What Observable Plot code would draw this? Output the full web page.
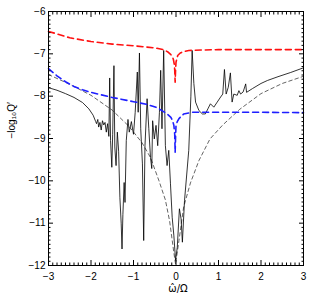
<!DOCTYPE html>
<html><head><meta charset="utf-8">
<script src="https://cdn.jsdelivr.net/npm/d3@7"></script>
<script src="https://cdn.jsdelivr.net/npm/@observablehq/plot@0.6"></script>
<style>body{margin:0;background:#fff}</style>
</head><body><div id="chart"></div>
<script>
// red dashed curve
const redW = [-3, -2.5, -2, -1.5, -1, -0.5, -0.3, -0.2, -0.12, -0.08, -0.06, -0.04, -0.03, -0.02, -0.01, 0.0, 0.04, 0.1, 0.17, 0.3, 0.6, 1, 2, 3];
const redQ = [-6.47, -6.62, -6.71, -6.77, -6.81, -6.86, -6.90, -6.95, -7.02, -7.08, -7.14, -7.25, -7.38, -7.67, -7.38, -7.20, -7.04, -6.98, -6.95, -6.92, -6.91, -6.90, -6.90, -6.90];
// blue dashed curve
const blueW = [-3, -2.8, -2.6, -2.4, -2.2, -2, -1.5, -1, -0.7, -0.45, -0.3, -0.2, -0.12, -0.08, -0.05, -0.03, -0.02, -0.01, 0.0, 0.03, 0.07, 0.18, 0.38, 0.6, 1, 2, 3];
const blueQ = [-7.35, -7.52, -7.66, -7.77, -7.85, -7.91, -8.03, -8.13, -8.19, -8.27, -8.36, -8.43, -8.50, -8.58, -8.69, -8.90, -9.33, -8.95, -8.70, -8.60, -8.53, -8.42, -8.38, -8.38, -8.38, -8.38, -8.39];
// thin black dashed curve
const dashW = [-3, -2.5, -2, -1.5, -1.1, -0.8, -0.6, -0.4, -0.25, -0.15, -0.05, -0.01, 0.07, 0.18, 0.34, 0.54, 0.8, 1.1, 1.5, 2, 2.5, 3];
const dashQ = [-7.49, -7.72, -7.98, -8.33, -8.72, -9.10, -9.45, -10.0, -10.45, -10.95, -11.7, -11.97, -11.41, -10.62, -10.05, -9.52, -9.01, -8.68, -8.31, -7.94, -7.70, -7.53];
// black solid curve
const solidW = [-3, -2.8, -2.6, -2.4, -2.2, -2.05, -1.95, -1.89, -1.87, -1.84, -1.82, -1.79, -1.76, -1.73, -1.70, -1.67, -1.64, -1.61, -1.58, -1.56, -1.54, -1.51, -1.49, -1.46, -1.44, -1.41, -1.38, -1.35, -1.32, -1.29, -1.27, -1.25, -1.22, -1.20, -1.17, -1.13, -1.10, -1.05, -1.0, -0.96, -0.91, -0.89, -0.86, -0.83, -0.79, -0.76, -0.73, -0.68, -0.64, -0.60, -0.57, -0.55, -0.51, -0.47, -0.43, -0.39, -0.36, -0.33, -0.29, -0.25, -0.21, -0.17, -0.13, -0.09, -0.05, -0.01, 0.03, 0.08, 0.12, 0.15, 0.2, 0.3, 0.35, 0.38, 0.42, 0.46, 0.54, 0.62, 0.69, 0.75, 0.81, 0.89, 0.97, 1.05, 1.1, 1.14, 1.18, 1.23, 1.28, 1.32, 1.36, 1.44, 1.48, 1.52, 1.58, 1.64, 1.66, 1.8, 2.0, 2.15, 2.4, 2.7, 3.0];
const solidQ = [-7.80, -7.86, -7.94, -8.03, -8.15, -8.30, -8.45, -8.60, -8.65, -8.55, -8.73, -8.62, -8.80, -8.58, -8.68, -8.62, -8.85, -8.65, -8.95, -7.57, -9.05, -9.68, -8.90, -7.28, -9.20, -9.64, -8.85, -9.30, -10.4, -11.0, -11.61, -10.8, -10.04, -10.51, -9.05, -8.55, -8.85, -8.60, -8.90, -8.38, -7.43, -8.38, -6.98, -8.77, -9.60, -11.41, -9.17, -8.06, -8.77, -9.45, -9.71, -8.58, -9.01, -8.69, -9.17, -8.38, -7.39, -8.77, -6.92, -9.17, -9.64, -9.28, -10.07, -10.86, -11.3, -11.88, -11.57, -10.66, -10.9, -11.45, -10.47, -9.28, -8.0, -6.92, -7.70, -8.14, -8.34, -8.42, -8.42, -8.30, -8.18, -8.26, -8.14, -8.02, -7.95, -7.37, -7.95, -7.79, -7.45, -8.14, -7.95, -7.98, -7.87, -7.95, -7.90, -7.71, -7.91, -7.82, -7.70, -7.63, -7.54, -7.44, -7.33];
// ticks
const xTicks = [-3, -2, -1, 0, 1, 2, 3];
const xTickLabels = ["\u22123", "\u22122", "\u22121", "0", "1", "2", "3"];
const yTicks = [-6, -7, -8, -9, -10, -11, -12];
const yTickLabels = ["\u22126", "\u22127", "\u22128", "\u22129", "\u221210", "\u221211", "\u221212"];
const xLabel = "\u03c9\u0302/\u03a9";
const yLabel = "\u2212log\u2081\u2080Q\u2032";

const rows = (xs, ys) => xs.map((x, i) => ({x, y: ys[i]}));
const xMinor = d3.range(-30, 31).filter(i => i % 10 !== 0).map(i => i / 10);
const yMinor = d3.range(-120, -59).filter(i => i % 10 !== 0).map(i => i / 10);
const fx = d => xTickLabels[xTicks.indexOf(d)];
const fy = d => yTickLabels[yTicks.indexOf(d)];

const tickMarks = [];
for (const anchor of ["bottom", "top"]) {
  tickMarks.push(Plot.axisX({anchor, ticks: xTicks, tickSize: -5, text: null, label: null, stroke: "#000"}));
  tickMarks.push(Plot.axisX({anchor, ticks: xMinor, tickSize: -2.5, text: null, label: null, stroke: "#000"}));
}
for (const anchor of ["left", "right"]) {
  tickMarks.push(Plot.axisY({anchor, ticks: yTicks, tickSize: -5, text: null, label: null, stroke: "#000"}));
  tickMarks.push(Plot.axisY({anchor, ticks: yMinor, tickSize: -2.5, text: null, label: null, stroke: "#000"}));
}

const chart = Plot.plot({
  width: 311, height: 300,
  marginLeft: 48, marginRight: 8, marginTop: 11, marginBottom: 35,
  style: {fontFamily: "'Liberation Sans', Arial, sans-serif", fontSize: "10px", color: "#000", background: "#fff"},
  x: {domain: [-3, 3]},
  y: {domain: [-12, -6]},
  marks: [
    Plot.line(rows(dashW, dashQ), {x: "x", y: "y", stroke: "#222", strokeWidth: 0.7, strokeDasharray: "3.5,3"}),
    Plot.line(rows(solidW, solidQ), {x: "x", y: "y", stroke: "#000", strokeWidth: 0.8}),
    Plot.line(rows(blueW, blueQ), {x: "x", y: "y", stroke: "#1f1fff", strokeWidth: 1.6, strokeDasharray: "6,4"}),
    Plot.line(rows(redW, redQ), {x: "x", y: "y", stroke: "#ff1010", strokeWidth: 1.6, strokeDasharray: "6,4"}),
    Plot.frame({stroke: "#000", strokeWidth: 1}),
    ...tickMarks,
    Plot.axisX({anchor: "bottom", ticks: xTicks, tickSize: 0, tickPadding: 7, tickFormat: fx, label: null}),
    Plot.axisY({anchor: "left", ticks: yTicks, tickSize: 0, tickPadding: 3, tickFormat: fy, label: null}),
    Plot.text([xLabel], {frameAnchor: "bottom", dx: 2, dy: 26, fontSize: 10, fontFamily: "'DejaVu Sans', sans-serif"}),
    Plot.text([yLabel], {frameAnchor: "left", rotate: -90, dx: -37, fontSize: 10})
  ]
});
document.getElementById("chart").appendChild(chart);
</script>
</body></html>
